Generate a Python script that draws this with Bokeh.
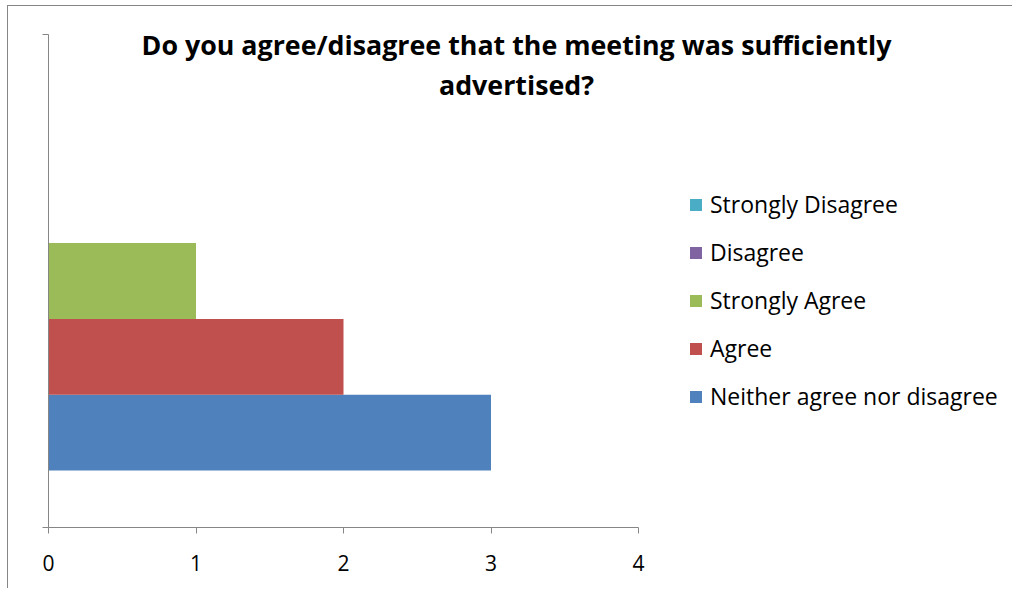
from bokeh.plotting import figure
from bokeh.models import (Range1d, FixedTicker, Legend, LegendItem, Label)
from bokeh.embed import file_html
from bokeh.resources import INLINE

# ---- data ----
title_lines = ["Do you agree/disagree that the meeting was sufficiently", "advertised?"]
series = ["Neither agree nor disagree", "Agree", "Strongly Agree", "Disagree", "Strongly Disagree"]
values = [3, 2, 1, 0, 0]
colors = ["#4F81BD", "#C0504D", "#9BBB59", "#8064A2", "#4BACC6"]
x_ticks = [0, 1, 2, 3, 4]

FONT = "Open Sans"
W, H = 1005, 583
left, bottom = 40, 62
px_per_unit = 147.5
frame_w = W - left
frame_h = H - bottom
y_unit_px = 493.0

p = figure(width=W, height=H, output_backend="svg", toolbar_location=None,
           x_range=Range1d(0, frame_w / px_per_unit),
           y_range=Range1d(0, frame_h / y_unit_px),
           min_border_left=left, min_border_right=0, min_border_top=0,
           min_border_bottom=bottom)
p.outline_line_color = None
p.grid.visible = False
p.background_fill_color = "white"
p.border_fill_color = "white"
p.styles = {"margin-left": "7px", "margin-top": "5px",
            "border-left": "1px solid #868686", "border-top": "1px solid #868686"}

n = len(series)
gap = 1.5
h = 1.0 / (n + gap)
ys = [0.5 + (i - (n - 1) / 2) * h for i in range(n)]
renderers = []
for i in range(n):
    r = p.hbar(y=[ys[i]], right=[values[i]], left=0, height=h, fill_color=colors[i], line_color=None)
    renderers.append(r)

# axes
ax = p.xaxis[0]
ax.bounds = (0, 4)
ax.ticker = FixedTicker(ticks=x_ticks)
ax.minor_tick_line_color = None
ax.major_tick_out = 6
ax.major_tick_in = 0
ax.axis_line_color = "#868686"
ax.major_tick_line_color = "#868686"
ax.major_label_text_font = FONT
ax.major_label_text_font_size = "21px"
ax.major_label_text_color = "black"
ax.major_label_standoff = 21

ay = p.yaxis[0]
ay.bounds = (0, 1)
ay.ticker = FixedTicker(ticks=[0, 1])
ay.minor_tick_line_color = None
ay.major_tick_out = 6
ay.major_tick_in = 0
ay.axis_line_color = "#868686"
ay.major_tick_line_color = "#868686"
ay.major_label_overrides = {0: "", 1: ""}

# title
for k, line in enumerate(title_lines):
    p.add_layout(Label(x=(516 - 48) / px_per_unit, y=(527 - 44 - 40 * k) / y_unit_px,
                       text=line, text_align="center", text_baseline="middle",
                       text_font=FONT, text_font_style="bold", text_font_size="26.8px",
                       text_color="black"))

items = [LegendItem(label=series[i], renderers=[renderers[i]]) for i in reversed(range(n))]
legend = Legend(items=items, location=(640, 115), padding=0, margin=0,
                border_line_color=None, background_fill_alpha=0,
                glyph_width=15, glyph_height=15, label_text_font=FONT,
                label_text_color="black",
                label_text_font_size="23px", spacing=16, label_standoff=7)
p.add_layout(legend)

open("out.html", "w").write(file_html(p, INLINE))
